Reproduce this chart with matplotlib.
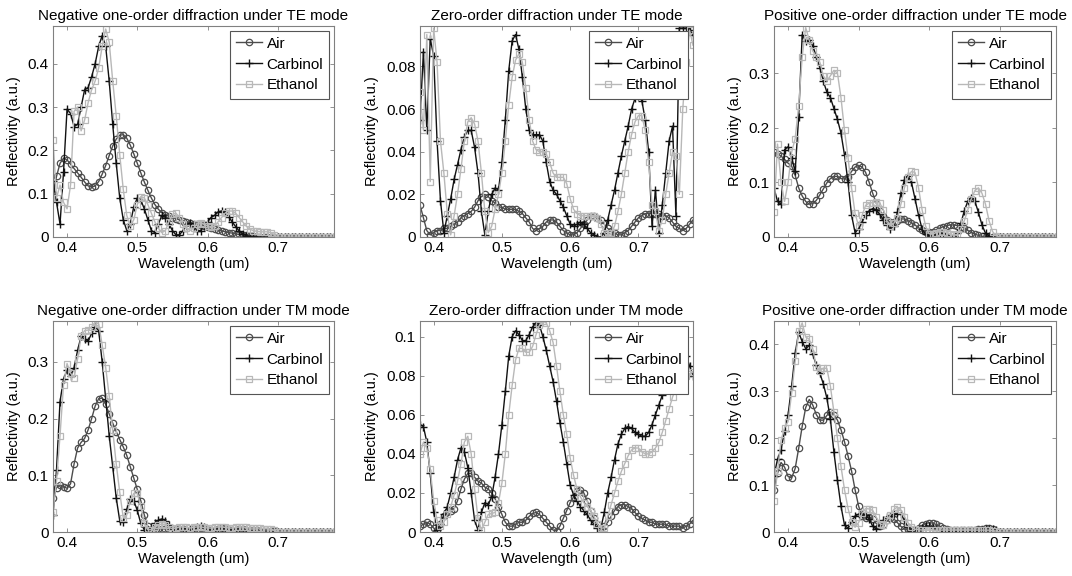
import numpy as np
import matplotlib
matplotlib.use('Agg')
import matplotlib.pyplot as plt
from matplotlib.ticker import FormatStrFormatter

plt.rcParams['font.family'] = ['Liberation Sans', 'DejaVu Sans']

# Довжина хвилі (um), крок 0.005
wavelength = np.round(np.arange(0.38, 0.7801, 0.005), 3)

# ---- TE, negative one-order ----
te_neg_air = [
    0.100, 0.140, 0.170, 0.182, 0.178, 0.168, 0.158, 0.148, 0.138, 0.127,
    0.118, 0.115, 0.118, 0.128, 0.145, 0.165, 0.188, 0.210, 0.226, 0.235,
    0.236, 0.228, 0.212, 0.192, 0.170, 0.148, 0.127, 0.108, 0.090, 0.075,
    0.064, 0.056, 0.051, 0.048, 0.045, 0.042, 0.040, 0.037, 0.035, 0.033,
    0.031, 0.029, 0.027, 0.025, 0.022, 0.020, 0.018, 0.016, 0.014, 0.012,
    0.010, 0.009, 0.007, 0.006, 0.005, 0.004, 0.003, 0.002, 0.001, 0.000,
    0.000, 0.000, 0.000, 0.000, 0.000, 0.000, 0.000, 0.000, 0.000, 0.000,
    0.000, 0.000, 0.000, 0.000, 0.000, 0.000, 0.000, 0.000, 0.000, 0.000,
    0.000]
te_neg_carbinol = [
    0.130, 0.080, 0.030, 0.150, 0.295, 0.285, 0.255, 0.260, 0.300, 0.340,
    0.345, 0.370, 0.400, 0.440, 0.465, 0.440, 0.360, 0.260, 0.170, 0.090,
    0.040, 0.015, 0.030, 0.070, 0.090, 0.085, 0.065, 0.040, 0.015, 0.010,
    0.030, 0.050, 0.045, 0.030, 0.015, 0.005, 0.005, 0.015, 0.028, 0.032,
    0.025, 0.015, 0.015, 0.025, 0.035, 0.045, 0.050, 0.058, 0.060, 0.057,
    0.047, 0.035, 0.024, 0.014, 0.007, 0.003, 0.001, 0.000, 0.000, 0.000,
    0.000, 0.000, 0.000, 0.000, 0.000, 0.000, 0.000, 0.000, 0.000, 0.000,
    0.000, 0.000, 0.000, 0.000, 0.000, 0.000, 0.000, 0.000, 0.000, 0.000,
    0.000]
te_neg_ethanol = [
    0.225, 0.090, 0.120, 0.080, 0.065, 0.120, 0.290, 0.300, 0.245, 0.270,
    0.310, 0.340, 0.360, 0.390, 0.440, 0.480, 0.450, 0.360, 0.280, 0.190,
    0.110, 0.050, 0.025, 0.040, 0.075, 0.093, 0.090, 0.075, 0.055, 0.035,
    0.020, 0.010, 0.015, 0.035, 0.052, 0.055, 0.045, 0.030, 0.020, 0.015,
    0.020, 0.030, 0.033, 0.030, 0.025, 0.022, 0.025, 0.035, 0.045, 0.055,
    0.060, 0.060, 0.055, 0.045, 0.035, 0.025, 0.018, 0.015, 0.013, 0.012,
    0.012, 0.012, 0.010, 0.004, 0.000, 0.000, 0.000, 0.000, 0.000, 0.000,
    0.000, 0.000, 0.000, 0.000, 0.000, 0.000, 0.000, 0.000, 0.000, 0.000,
    0.000]

# ---- TE, zero-order ----
te_zero_air = [
    0.015, 0.009, 0.003, 0.001, 0.002, 0.003, 0.003, 0.004, 0.004, 0.005,
    0.006, 0.007, 0.009, 0.010, 0.011, 0.012, 0.014, 0.017, 0.019, 0.020,
    0.019, 0.017, 0.016, 0.014, 0.014, 0.013, 0.013, 0.013, 0.013, 0.012,
    0.011, 0.009, 0.007, 0.004, 0.003, 0.004, 0.005, 0.007, 0.008, 0.008,
    0.007, 0.005, 0.003, 0.002, 0.001, 0.001, 0.002, 0.004, 0.006, 0.008,
    0.010, 0.010, 0.009, 0.008, 0.006, 0.004, 0.003, 0.002, 0.001, 0.001,
    0.002, 0.003, 0.005, 0.007, 0.009, 0.010, 0.011, 0.011, 0.011, 0.011,
    0.011, 0.010, 0.010, 0.009, 0.007, 0.005, 0.004, 0.003, 0.004, 0.006,
    0.008]
te_zero_carbinol = [
    0.055, 0.087, 0.050, 0.093, 0.085, 0.045, 0.017, 0.002, 0.010, 0.018,
    0.027, 0.034, 0.041, 0.047, 0.050, 0.050, 0.042, 0.030, 0.012, 0.001,
    0.012, 0.020, 0.023, 0.022, 0.035, 0.055, 0.078, 0.092, 0.095, 0.088,
    0.075, 0.060, 0.050, 0.048, 0.048, 0.048, 0.045, 0.035, 0.026, 0.022,
    0.020, 0.017, 0.014, 0.010, 0.006, 0.005, 0.006, 0.007, 0.006, 0.004,
    0.002, 0.001, 0.000, 0.000, 0.002, 0.008, 0.015, 0.022, 0.030, 0.038,
    0.045, 0.052, 0.060, 0.065, 0.066, 0.064, 0.055, 0.040, 0.005, 0.022,
    0.002, 0.015, 0.030, 0.045, 0.052, 0.010, 0.098, 0.098, 0.098, 0.097,
    0.095]
te_zero_ethanol = [
    0.068, 0.050, 0.095, 0.026, 0.098, 0.082, 0.045, 0.030, 0.011, 0.001,
    0.010, 0.020, 0.032, 0.045, 0.054, 0.056, 0.053, 0.045, 0.030, 0.012,
    0.002, 0.005, 0.013, 0.020, 0.030, 0.045, 0.062, 0.075, 0.083, 0.086,
    0.082, 0.070, 0.055, 0.045, 0.041, 0.040, 0.040, 0.039, 0.035, 0.030,
    0.028, 0.028, 0.028, 0.025, 0.018, 0.013, 0.011, 0.010, 0.010, 0.010,
    0.010, 0.010, 0.009, 0.006, 0.002, 0.000, 0.002, 0.005, 0.012, 0.020,
    0.030, 0.040, 0.048, 0.054, 0.057, 0.057, 0.050, 0.035, 0.015, 0.012,
    0.003, 0.008, 0.020, 0.030, 0.040, 0.038, 0.020, 0.060, 0.082, 0.097,
    0.090]

# ---- TE, positive one-order ----
te_pos_air = [
    0.155, 0.152, 0.148, 0.142, 0.135, 0.130, 0.113, 0.090, 0.075, 0.065,
    0.060, 0.061, 0.067, 0.077, 0.088, 0.099, 0.107, 0.111, 0.111, 0.107,
    0.106, 0.110, 0.120, 0.128, 0.131, 0.128, 0.118, 0.100, 0.080, 0.062,
    0.048, 0.038, 0.031, 0.027, 0.027, 0.030, 0.033, 0.033, 0.030, 0.026,
    0.022, 0.017, 0.013, 0.010, 0.009, 0.010, 0.013, 0.016, 0.019, 0.021,
    0.022, 0.022, 0.021, 0.019, 0.016, 0.012, 0.008, 0.005, 0.003, 0.001,
    0.000, 0.000, 0.000, 0.000, 0.000, 0.000, 0.000, 0.000, 0.000, 0.000,
    0.000, 0.000, 0.000, 0.000, 0.000, 0.000, 0.000, 0.000, 0.000, 0.000,
    0.000]
te_pos_carbinol = [
    0.090, 0.065, 0.060, 0.160, 0.165, 0.145, 0.120, 0.220, 0.370, 0.358,
    0.360, 0.350, 0.330, 0.310, 0.285, 0.265, 0.255, 0.235, 0.215, 0.190,
    0.150, 0.100, 0.040, 0.008, 0.015, 0.028, 0.040, 0.048, 0.052, 0.050,
    0.042, 0.032, 0.022, 0.015, 0.020, 0.045, 0.080, 0.105, 0.112, 0.100,
    0.070, 0.040, 0.015, 0.005, 0.002, 0.003, 0.006, 0.008, 0.007, 0.004,
    0.002, 0.002, 0.008, 0.025, 0.048, 0.066, 0.072, 0.065, 0.045, 0.022,
    0.007, 0.002, 0.000, 0.000, 0.000, 0.000, 0.000, 0.000, 0.000, 0.000,
    0.000, 0.000, 0.000, 0.000, 0.000, 0.000, 0.000, 0.000, 0.000, 0.000,
    0.000]
te_pos_ethanol = [
    0.045, 0.170, 0.100, 0.065, 0.100, 0.155, 0.180, 0.240, 0.330, 0.383,
    0.360, 0.340, 0.330, 0.320, 0.295, 0.285, 0.295, 0.305, 0.300, 0.255,
    0.195, 0.145, 0.090, 0.043, 0.020, 0.040, 0.058, 0.062, 0.063, 0.064,
    0.062, 0.050, 0.030, 0.020, 0.025, 0.035, 0.060, 0.090, 0.110, 0.120,
    0.118, 0.090, 0.050, 0.020, 0.006, 0.005, 0.008, 0.010, 0.010, 0.008,
    0.005, 0.003, 0.005, 0.015, 0.030, 0.050, 0.070, 0.085, 0.090, 0.080,
    0.060, 0.030, 0.010, 0.002, 0.000, 0.000, 0.000, 0.000, 0.000, 0.000,
    0.000, 0.000, 0.000, 0.000, 0.000, 0.000, 0.000, 0.000, 0.000, 0.000,
    0.000]

# ---- TM, negative one-order ----
tm_neg_air = [
    0.060, 0.078, 0.083, 0.080, 0.077, 0.085, 0.120, 0.148, 0.158, 0.165,
    0.180, 0.200, 0.222, 0.235, 0.236, 0.225, 0.208, 0.192, 0.177, 0.163,
    0.150, 0.135, 0.115, 0.095, 0.075, 0.055, 0.030, 0.010, 0.004, 0.003,
    0.005, 0.006, 0.005, 0.004, 0.004, 0.005, 0.006, 0.005, 0.004, 0.004,
    0.005, 0.006, 0.007, 0.006, 0.004, 0.003, 0.004, 0.006, 0.007, 0.006,
    0.004, 0.003, 0.004, 0.005, 0.005, 0.004, 0.003, 0.003, 0.003, 0.002,
    0.002, 0.002, 0.001, 0.001, 0.000, 0.000, 0.000, 0.000, 0.000, 0.000,
    0.000, 0.000, 0.000, 0.000, 0.000, 0.000, 0.000, 0.000, 0.000, 0.000,
    0.000]
tm_neg_carbinol = [
    0.030, 0.110, 0.230, 0.270, 0.285, 0.275, 0.290, 0.320, 0.345, 0.340,
    0.337, 0.350, 0.362, 0.355, 0.300, 0.235, 0.170, 0.115, 0.060, 0.020,
    0.017, 0.040, 0.058, 0.055, 0.038, 0.015, 0.004, 0.003, 0.008, 0.015,
    0.021, 0.023, 0.020, 0.012, 0.006, 0.004, 0.005, 0.007, 0.006, 0.005,
    0.007, 0.009, 0.010, 0.009, 0.006, 0.004, 0.004, 0.006, 0.007, 0.006,
    0.005, 0.004, 0.005, 0.005, 0.004, 0.003, 0.002, 0.002, 0.001, 0.000,
    0.000, 0.000, 0.000, 0.000, 0.000, 0.000, 0.000, 0.000, 0.000, 0.000,
    0.000, 0.000, 0.000, 0.000, 0.000, 0.000, 0.000, 0.000, 0.000, 0.000,
    0.000]
tm_neg_ethanol = [
    0.035, 0.090, 0.170, 0.260, 0.297, 0.280, 0.272, 0.305, 0.345, 0.355,
    0.356, 0.362, 0.370, 0.367, 0.330, 0.290, 0.240, 0.180, 0.120, 0.070,
    0.025, 0.030, 0.055, 0.068, 0.068, 0.045, 0.015, 0.004, 0.004, 0.008,
    0.012, 0.014, 0.012, 0.008, 0.006, 0.007, 0.009, 0.009, 0.008, 0.007,
    0.008, 0.009, 0.009, 0.008, 0.007, 0.007, 0.008, 0.009, 0.009, 0.008,
    0.007, 0.007, 0.008, 0.009, 0.009, 0.008, 0.007, 0.007, 0.007, 0.007,
    0.006, 0.006, 0.005, 0.003, 0.000, 0.000, 0.000, 0.000, 0.000, 0.000,
    0.000, 0.000, 0.000, 0.000, 0.000, 0.000, 0.000, 0.000, 0.000, 0.000,
    0.000]

# ---- TM, zero-order ----
tm_zero_air = [
    0.003, 0.004, 0.005, 0.004, 0.002, 0.001, 0.004, 0.008, 0.010, 0.011,
    0.012, 0.016, 0.022, 0.027, 0.030, 0.030, 0.028, 0.026, 0.025, 0.023,
    0.022, 0.020, 0.017, 0.013, 0.009, 0.005, 0.003, 0.003, 0.004, 0.005,
    0.005, 0.006, 0.008, 0.0095, 0.010, 0.009, 0.007, 0.005, 0.003, 0.001,
    0.0005, 0.003, 0.007, 0.011, 0.015, 0.018, 0.021, 0.0215, 0.020, 0.016,
    0.011, 0.007, 0.004, 0.002, 0.003, 0.005, 0.008, 0.011, 0.013, 0.014,
    0.014, 0.013, 0.012, 0.010, 0.008, 0.007, 0.006, 0.005, 0.005, 0.004,
    0.004, 0.004, 0.004, 0.003, 0.003, 0.003, 0.003, 0.002, 0.003, 0.004,
    0.006]
tm_zero_carbinol = [
    0.055, 0.054, 0.046, 0.030, 0.010, 0.001, 0.004, 0.009, 0.013, 0.020,
    0.028, 0.037, 0.043, 0.041, 0.033, 0.020, 0.006, 0.001, 0.010, 0.015,
    0.014, 0.018, 0.028, 0.040, 0.055, 0.072, 0.090, 0.100, 0.103, 0.101,
    0.098, 0.098, 0.101, 0.105, 0.107, 0.106, 0.100, 0.093, 0.085, 0.077,
    0.067, 0.056, 0.046, 0.035, 0.024, 0.019, 0.016, 0.013, 0.011, 0.009,
    0.006, 0.004, 0.002, 0.002, 0.010, 0.020, 0.028, 0.037, 0.045, 0.050,
    0.053, 0.054, 0.053, 0.051, 0.050, 0.049, 0.049, 0.051, 0.055, 0.060,
    0.065, 0.070, 0.075, 0.080, 0.085, 0.090, 0.093, 0.093, 0.090, 0.085,
    0.080]
tm_zero_ethanol = [
    0.040, 0.046, 0.043, 0.032, 0.016, 0.006, 0.003, 0.005, 0.009, 0.013,
    0.019, 0.026, 0.035, 0.046, 0.049, 0.040, 0.022, 0.007, 0.001, 0.005,
    0.009, 0.0095, 0.010, 0.015, 0.025, 0.040, 0.060, 0.075, 0.088, 0.094,
    0.094, 0.092, 0.092, 0.095, 0.101, 0.106, 0.108, 0.107, 0.103, 0.097,
    0.085, 0.072, 0.060, 0.050, 0.038, 0.029, 0.022, 0.018, 0.015, 0.013,
    0.011, 0.008, 0.004, 0.002, 0.002, 0.008, 0.014, 0.020, 0.026, 0.031,
    0.035, 0.039, 0.042, 0.043, 0.043, 0.041, 0.040, 0.040, 0.041, 0.043,
    0.046, 0.051, 0.057, 0.063, 0.069, 0.074, 0.077, 0.079, 0.080, 0.081,
    0.082]

# ---- TM, positive one-order ----
tm_pos_air = [
    0.090, 0.125, 0.148, 0.138, 0.118, 0.115, 0.135, 0.178, 0.225, 0.265,
    0.282, 0.270, 0.250, 0.238, 0.238, 0.248, 0.255, 0.250, 0.238, 0.218,
    0.192, 0.162, 0.130, 0.090, 0.055, 0.035, 0.030, 0.032, 0.028, 0.018,
    0.012, 0.015, 0.025, 0.030, 0.028, 0.020, 0.012, 0.006, 0.004, 0.003,
    0.005, 0.009, 0.014, 0.018, 0.020, 0.019, 0.016, 0.012, 0.008, 0.006,
    0.005, 0.004, 0.004, 0.004, 0.004, 0.004, 0.004, 0.005, 0.006, 0.007,
    0.008, 0.008, 0.006, 0.003, 0.001, 0.000, 0.000, 0.000, 0.000, 0.000,
    0.000, 0.000, 0.000, 0.000, 0.000, 0.000, 0.000, 0.000, 0.000, 0.000,
    0.000]
tm_pos_carbinol = [
    0.120, 0.155, 0.175, 0.215, 0.250, 0.310, 0.380, 0.425, 0.405, 0.390,
    0.397, 0.378, 0.355, 0.338, 0.315, 0.285, 0.240, 0.170, 0.110, 0.055,
    0.015, 0.008, 0.022, 0.034, 0.038, 0.039, 0.036, 0.028, 0.012, 0.006,
    0.015, 0.025, 0.032, 0.035, 0.038, 0.040, 0.038, 0.025, 0.010, 0.003,
    0.002, 0.004, 0.008, 0.012, 0.012, 0.009, 0.006, 0.004, 0.003, 0.003,
    0.003, 0.003, 0.002, 0.002, 0.002, 0.002, 0.002, 0.003, 0.004, 0.005,
    0.006, 0.007, 0.007, 0.004, 0.001, 0.000, 0.000, 0.000, 0.000, 0.000,
    0.000, 0.000, 0.000, 0.000, 0.000, 0.000, 0.000, 0.000, 0.000, 0.000,
    0.000]
tm_pos_ethanol = [
    0.065, 0.130, 0.195, 0.222, 0.235, 0.295, 0.363, 0.427, 0.445, 0.415,
    0.410, 0.390, 0.352, 0.342, 0.349, 0.348, 0.310, 0.255, 0.200, 0.140,
    0.090, 0.050, 0.022, 0.010, 0.020, 0.040, 0.050, 0.049, 0.046, 0.032,
    0.018, 0.014, 0.025, 0.036, 0.048, 0.053, 0.047, 0.032, 0.020, 0.010,
    0.006, 0.005, 0.004, 0.004, 0.004, 0.004, 0.004, 0.004, 0.004, 0.004,
    0.004, 0.004, 0.004, 0.004, 0.004, 0.004, 0.004, 0.004, 0.004, 0.004,
    0.004, 0.004, 0.003, 0.002, 0.000, 0.000, 0.000, 0.000, 0.000, 0.000,
    0.000, 0.000, 0.000, 0.000, 0.000, 0.000, 0.000, 0.000, 0.000, 0.000,
    0.000]

titles = [
    'Negative one-order diffraction under TE mode',
    'Zero-order diffraction under TE mode',
    'Positive one-order diffraction under TE mode',
    'Negative one-order diffraction under TM mode',
    'Zero-order diffraction under TM mode',
    'Positive one-order diffraction under TM mode',
]
series = [
    (te_neg_air, te_neg_carbinol, te_neg_ethanol),
    (te_zero_air, te_zero_carbinol, te_zero_ethanol),
    (te_pos_air, te_pos_carbinol, te_pos_ethanol),
    (tm_neg_air, tm_neg_carbinol, tm_neg_ethanol),
    (tm_zero_air, tm_zero_carbinol, tm_zero_ethanol),
    (tm_pos_air, tm_pos_carbinol, tm_pos_ethanol),
]
y_max = [0.487, 0.099, 0.386, 0.372, 0.108, 0.449]
y_ticks = [
    [0, 0.1, 0.2, 0.3, 0.4],
    [0, 0.02, 0.04, 0.06, 0.08],
    [0, 0.1, 0.2, 0.3],
    [0, 0.1, 0.2, 0.3],
    [0, 0.02, 0.04, 0.06, 0.08, 0.1],
    [0, 0.1, 0.2, 0.3, 0.4],
]

# Розташування осей (пікселі 1072x576)
W, H = 1072, 576
col_left = [53, 420, 774]
col_width = [281, 273, 282]
row_top = [26, 321]
ax_height = 211

frame_color = '#808080'

fig = plt.figure(figsize=(W / 100, H / 100), dpi=100)

for k in range(6):
    r, c = divmod(k, 3)
    ax = fig.add_axes([col_left[c] / W, 1 - (row_top[r] + ax_height) / H,
                       col_width[c] / W, ax_height / H])
    air, carb, eth = series[k]

    ax.plot(wavelength, air, '-o', color='#4c4c4c', mfc='none',
            ms=4.6, mew=0.9, lw=1.0, label='Air')
    ax.plot(wavelength, carb, '-+', color='#111111',
            ms=5.5, mew=1.0, lw=1.0, label='Carbinol')
    ax.plot(wavelength, eth, '-s', color='#b8b8b8', mfc='none',
            ms=4.6, mew=0.9, lw=1.0, label='Ethanol')

    ax.set_xlim(0.38, 0.78)
    ax.set_ylim(0, y_max[k])
    ax.set_xticks([0.4, 0.5, 0.6, 0.7])
    ax.set_yticks(y_ticks[k])
    ax.yaxis.set_major_formatter(FormatStrFormatter('%g'))

    ax.tick_params(direction='in', top=True, right=True, length=3,
                   width=0.6, color=frame_color, labelsize=11,
                   labelcolor='black', pad=3)
    for sp in ax.spines.values():
        sp.set_color(frame_color)
        sp.set_linewidth(0.8)

    ax.set_title(titles[k], fontsize=11, pad=4)
    ax.set_xlabel('Wavelength (um)', fontsize=10.5, labelpad=1)
    ax.set_ylabel('Reflectivity (a.u.)', fontsize=10.5, labelpad=5)

    leg = ax.legend(loc='upper right', numpoints=1, fancybox=False,
                    edgecolor='#555555', framealpha=1, fontsize=11,
                    borderpad=0.4, labelspacing=0.45, handlelength=1.7,
                    handletextpad=0.3, borderaxespad=0.3)
    leg.get_frame().set_linewidth(0.8)

fig.savefig('out.png', dpi=100)
